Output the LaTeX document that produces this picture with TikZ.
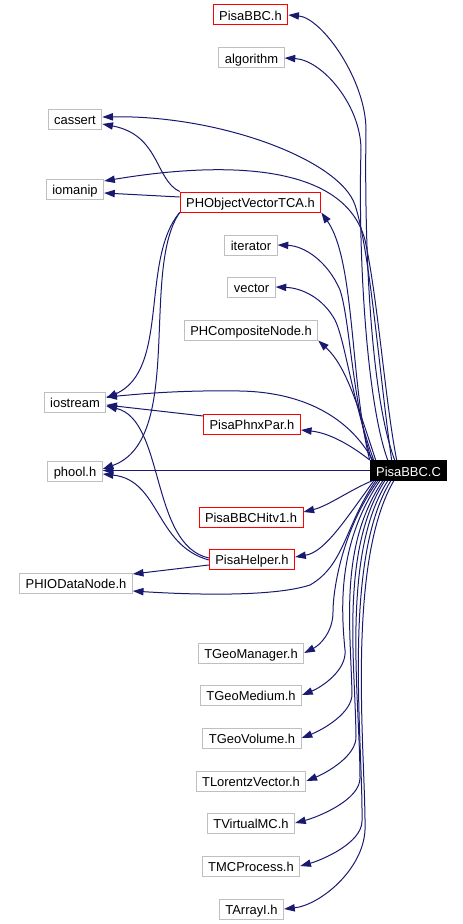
\documentclass[tikz,border=0pt]{standalone}
\usepackage{fontspec}
\setmainfont{Liberation Sans}
\usetikzlibrary{arrows.meta,calc}
\definecolor{edgecol}{HTML}{191970}
\definecolor{boxgray}{HTML}{BFBFBF}
\begin{document}
\begin{tikzpicture}[x=0.75pt,y=-0.75pt,
  box/.style={draw=boxgray, line width=0.75pt, inner xsep=4.5pt, inner ysep=0pt,
    minimum height=15pt, text height=8.5pt, text depth=0pt,
    font=\fontsize{9.7pt}{11pt}\selectfont, text=black},
  redbox/.style={box, draw=red},
  mainbox/.style={box, draw=black, fill=black, text=white},
  dep/.style={draw=edgecol, line width=0.75pt, -{Triangle[length=8pt,width=5.5pt]}}]
\useasboundingbox (0,0) rectangle (462,924);
% nodes
\node[redbox] (pbh) at (250.5,15) {PisaBBC.h};
\node[box] (alg) at (251.5,58) {algorithm};
\node[box] (cas) at (75,119) {cassert};
\node[box] (iom) at (75,189) {iomanip};
\node[redbox] (phov) at (250.5,202) {PHObjectVectorTCA.h};
\node[box] (iter) at (251,245) {iterator};
\node[box] (vec) at (251.5,287) {vector};
\node[box] (phc) at (251,330) {PHCompositeNode.h};
\node[box] (ios) at (75,402) {iostream};
\node[redbox] (ppp) at (252,424) {PisaPhnxPar.h};
\node[box] (phool) at (75,471) {phool.h};
\node[mainbox] (C) at (408.5,470.5) {PisaBBC.C};
\node[redbox] (hit) at (251,517) {PisaBBCHitv1.h};
\node[redbox] (ph) at (252,559) {PisaHelper.h};
\node[box] (phio) at (76,583) {PHIODataNode.h};
\node[box] (tgm) at (251,653) {TGeoManager.h};
\node[box] (tgmed) at (251,695) {TGeoMedium.h};
\node[box] (tgv) at (252,738) {TGeoVolume.h};
\node[box] (tlv) at (251,781) {TLorentzVector.h};
\node[box] (tvmc) at (251,823) {TVirtualMC.h};
\node[box] (tmcp) at (251,866) {TMCProcess.h};
\node[box] (tai) at (251.5,909) {TArrayI.h};
% edges from PisaBBC.C upwards
\draw[dep] ($(C.north west)+(25,0)$) .. controls (372,400) and (364,260) .. (366,130) .. controls (366,80) and (322,18) .. (pbh.east);
\draw[dep] ($(C.north west)+(18,0)$) .. controls (366,400) and (358,250) .. (361,150) .. controls (361,105) and (322,60) .. (alg.east);
\draw[dep] ($(C.north west)+(22,0)$) .. controls (380,380) and (370,250) .. (355,205) .. controls (340,160) and (220,115) .. ($(cas.east)+(0,-2)$);
\draw[dep] ($(C.north west)+(27,0)$) .. controls (385,400) and (378,300) .. (365,240) .. controls (345,165) and (230,160) .. ($(iom.east)+(0,-8)$);
\draw[dep] (C.north west) .. controls (350,380) and (355,260) .. (phov.south east);
\draw[dep] ($(C.north west)+(2,0)$) .. controls (352,400) and (350,320) .. (340,290) .. controls (328,262) and (305,246) .. (iter.east);
\draw[dep] ($(C.north west)+(4,0)$) .. controls (352,400) and (345,340) .. (335,320) .. controls (323,298) and (302,288) .. (vec.east);
\draw[dep] ($(C.north west)+(6,0)$) .. controls (356,400) and (345,365) .. (phc.south east);
\draw[dep] ($(C.north west)+(3,0)$) .. controls (348,415) and (300,392) .. (240,391) .. controls (180,390) and (140,394) .. ($(ios.east)+(0,-5)$);
\draw[dep] (C.north west) .. controls (352,446) and (330,433) .. ($(ppp.east)+(0,6)$);
\draw[dep] (C.west) -- (C.west -| phool.east);
% edges from PisaBBC.C downwards
\draw[dep] ($(C.south west)+(2,0)$) .. controls (350,490) and (328,506) .. ($(hit.east)+(0,-5)$);
\draw[dep] ($(C.south west)+(4,0)$) .. controls (345,520) and (325,552) .. ($(ph.east)+(0,-2)$);
\draw[dep] ($(C.south west)+(6,0)$) .. controls (345,525) and (345,565) .. (310,585) .. controls (270,598) and (180,594) .. ($(phio.east)+(0,8)$);
\draw[dep] ($(C.south west)+(8,0)$) .. controls (342,530) and (333,590) .. (333,612) .. controls (333,632) and (320,645) .. (tgm.east);
\draw[dep] ($(C.south west)+(10,0)$) .. controls (340,540) and (340,600) .. (345,650) .. controls (347,670) and (322,687) .. (tgmed.east);
\draw[dep] ($(C.south west)+(13,0)$) .. controls (340,545) and (350,620) .. (352,693) .. controls (353,713) and (322,730) .. (tgv.east);
\draw[dep] ($(C.south west)+(15,0)$) .. controls (340,550) and (355,660) .. (356,736) .. controls (357,756) and (326,773) .. (tlv.east);
\draw[dep] ($(C.south west)+(18,0)$) .. controls (340,555) and (360,700) .. (360,778) .. controls (360,800) and (318,817) .. (tvmc.east);
\draw[dep] ($(C.south west)+(21,0)$) .. controls (342,560) and (363,740) .. (362,821) .. controls (362,843) and (322,860) .. (tmcp.east);
\draw[dep] ($(C.south west)+(24,0)$) .. controls (345,565) and (366,760) .. (365,830) .. controls (363,870) and (320,905) .. (tai.east);
% edges from intermediate headers
\draw[dep] (phov.north west) .. controls (155,180) and (160,135) .. ($(cas.east)+(0,5)$);
\draw[dep] ($(phov.west)+(0,-5)$) -- ($(iom.east)+(0,4)$);
\draw[dep] (phov.south west) .. controls (140,260) and (170,370) .. ($(ios.east)+(0,-4)$);
\draw[dep] (phov.south west) .. controls (140,270) and (185,440) .. ($(phool.east)+(0,-2)$);
\draw[dep] ($(ppp.west)+(0,-8)$) -- ($(ios.east)+(0,3)$);
\draw[dep] ($(ph.west)+(0,-1)$) .. controls (150,545) and (165,420) .. ($(ios.east)+(0,4)$);
\draw[dep] ($(ph.west)+(0,1)$) .. controls (155,545) and (160,480) .. ($(phool.east)+(0,3)$);
\draw[dep] ($(ph.west)+(0,6)$) -- ($(phio.east)+(0,-9)$);
\end{tikzpicture}
\end{document}
